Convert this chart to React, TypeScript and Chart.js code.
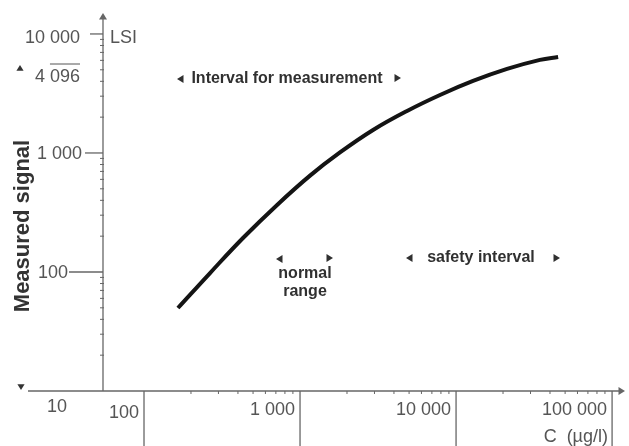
import React, { useEffect, useRef } from 'react';
import { Chart, registerables } from 'chart.js';

Chart.register(...registerables);

// ---- data ----
const concentration = [165, 265, 431, 713, 1159, 1803, 2938, 4853, 7890, 12850, 21230, 34500, 45100];
const signal = [49.8, 98, 193, 366, 645, 1010, 1560, 2254, 3070, 4027, 5085, 6053, 6410];

const xMajorTicks = [100, 1000, 10000, 100000];
const xTickLabels = ['100', '1 000', '10 000', '100 000'];
const yMajorTicks = [100, 1000, 10000];
const yTickLabels = ['100', '1 000', '10 000'];
const yLowLabel = '10';
const lsiLabelMain = '4 ';
const lsiLabelOver = '096';
const xRange = [54.6, 121000];
const yRange = [10, 15000];
const yAxisTitle = 'Measured signal';
const xAxisTitle = 'C  (µg/l)';
const yUnit = 'LSI';
const measureText = 'Interval for measurement';
const normalText = ['normal', 'range'];
const safetyText = 'safety interval';

// ---- layout / style (pixels) ----
const yTickStyle = [
  { labelRight: 68, dashFrom: 69 },
  { labelRight: 82, dashFrom: 85 },
  { labelRight: 80, dashFrom: 90 },
];
const tickFont = '18px "Liberation Sans", Arial, sans-serif';
const noteFont = 'bold 16px "Liberation Sans", Arial, sans-serif';
const titleFont = 'bold 22px "Liberation Sans", Arial, sans-serif';
const axisColor = '#666';
const tickTextColor = '#555';
const noteColor = '#303030';

function tri(ctx: CanvasRenderingContext2D, x: number, y: number, dir: 'l' | 'r' | 'u' | 'd', s = 4) {
  ctx.beginPath();
  if (dir === 'l') { ctx.moveTo(x, y); ctx.lineTo(x + s * 1.3, y - s * 0.8); ctx.lineTo(x + s * 1.3, y + s * 0.8); }
  if (dir === 'r') { ctx.moveTo(x, y); ctx.lineTo(x - s * 1.3, y - s * 0.8); ctx.lineTo(x - s * 1.3, y + s * 0.8); }
  if (dir === 'u') { ctx.moveTo(x, y); ctx.lineTo(x - s * 0.8, y + s * 1.3); ctx.lineTo(x + s * 0.8, y + s * 1.3); }
  if (dir === 'd') { ctx.moveTo(x, y); ctx.lineTo(x - s * 0.8, y - s * 1.3); ctx.lineTo(x + s * 0.8, y - s * 1.3); }
  ctx.closePath();
  ctx.fill();
}

function line(ctx: CanvasRenderingContext2D, x1: number, y1: number, x2: number, y2: number) {
  ctx.beginPath();
  ctx.moveTo(x1, y1);
  ctx.lineTo(x2, y2);
  ctx.stroke();
}

const sketchPlugin = {
  id: 'sketchAxes',
  beforeDatasetsDraw(chart: any) {
    const { ctx, chartArea, scales } = chart;
    const xs = scales.x;
    const ys = scales.y;
    const ax = xs.getPixelForValue(xRange[0]);
    const ay = ys.getPixelForValue(yRange[0]);
    const H = chart.height;
    ctx.save();
    ctx.strokeStyle = axisColor;
    ctx.fillStyle = axisColor;
    ctx.lineWidth = 1.3;

    // y axis + arrow
    line(ctx, ax, ay, ax, chartArea.top + 5);
    tri(ctx, ax, chartArea.top, 'u', 5);
    // x axis + arrow
    line(ctx, 28, ay, chartArea.right - 5, ay);
    tri(ctx, chartArea.right, ay, 'r', 5);

    // y minor ticks
    ctx.lineWidth = 1;
    for (let d = 10; d < yRange[1]; d *= 10) {
      for (let k = 2; k <= 9; k++) {
        const v = k * d;
        if (v > yRange[1]) break;
        const py = ys.getPixelForValue(v);
        line(ctx, ax - 3, py, ax + 1, py);
      }
    }
    // y major ticks (dashes to labels)
    ctx.lineWidth = 1.3;
    yMajorTicks.forEach((v, i) => {
      const py = ys.getPixelForValue(v);
      line(ctx, yTickStyle[i].dashFrom, py, ax, py);
    });

    // x minor ticks
    ctx.lineWidth = 1;
    for (let d = 100; d < xRange[1]; d *= 10) {
      for (let k = 2; k <= 9; k++) {
        const v = k * d;
        if (v > xRange[1]) break;
        const px = xs.getPixelForValue(v);
        line(ctx, px, ay, px, ay + 3);
      }
    }
    // x major ticks: long lines downward
    ctx.lineWidth = 1.3;
    xMajorTicks.forEach((v) => {
      const px = xs.getPixelForValue(v);
      line(ctx, px, ay, px, H);
    });

    // range markers at left
    ctx.fillStyle = '#333';
    tri(ctx, 20, 65, 'u', 4.5);
    tri(ctx, 21, 390, 'd', 4.5);

    // tick labels
    ctx.fillStyle = tickTextColor;
    ctx.font = tickFont;
    ctx.textBaseline = 'middle';
    ctx.textAlign = 'right';
    yMajorTicks.forEach((v, i) => {
      const py = ys.getPixelForValue(v);
      ctx.fillText(yTickLabels[i], yTickStyle[i].labelRight, py + (i === 2 ? 4 : 1));
    });
    // 4 096 with overline
    const lsiY = 77;
    ctx.fillText(lsiLabelMain + lsiLabelOver, 80, lsiY);
    const ow = ctx.measureText(lsiLabelOver).width;
    ctx.strokeStyle = tickTextColor;
    ctx.lineWidth = 1;
    line(ctx, 80 - ow, lsiY - 13, 80, lsiY - 13);

    ctx.textAlign = 'center';
    ctx.fillText(yLowLabel, 57, 407);

    ctx.textAlign = 'right';
    xMajorTicks.forEach((v, i) => {
      const px = xs.getPixelForValue(v);
      ctx.fillText(xTickLabels[i], px - 5, i === 0 ? 413 : 410);
    });
    ctx.fillText(xAxisTitle, 608, 437);

    ctx.textAlign = 'left';
    ctx.fillText(yUnit, 110, 38);

    // y-axis title
    ctx.save();
    ctx.translate(23, 226);
    ctx.rotate(-Math.PI / 2);
    ctx.font = titleFont;
    ctx.fillStyle = '#333';
    ctx.textAlign = 'center';
    ctx.fillText(yAxisTitle, 0, 0);
    ctx.restore();

    // notes
    ctx.font = noteFont;
    ctx.fillStyle = noteColor;
    ctx.textAlign = 'center';
    ctx.fillText(measureText, 287, 79);
    tri(ctx, 177, 79, 'l', 5);
    tri(ctx, 401, 78, 'r', 5);

    tri(ctx, 276, 259, 'l', 5);
    tri(ctx, 333, 258, 'r', 5);
    ctx.fillText(normalText[0], 305, 274);
    ctx.fillText(normalText[1], 305, 292);

    ctx.fillText(safetyText, 481, 258);
    tri(ctx, 406, 258, 'l', 5);
    tri(ctx, 560, 258, 'r', 5);

    ctx.restore();
  },
};

export default function App() {
  const ref = useRef<HTMLCanvasElement>(null);
  useEffect(() => {
    const chart = new Chart(ref.current as HTMLCanvasElement, {
      type: 'line',
      data: {
        datasets: [
          {
            data: concentration.map((c, i) => ({ x: c, y: signal[i] })),
            borderColor: '#141414',
            borderWidth: 4,
            pointRadius: 0,
            tension: 0.4,
            fill: false,
          },
        ],
      },
      options: {
        responsive: true,
        maintainAspectRatio: false,
        animation: false,
        events: [],
        layout: { padding: { left: 103, right: 4, top: 13, bottom: 55 } },
        scales: {
          x: { type: 'logarithmic', min: xRange[0], max: xRange[1], display: false, bounds: 'data' },
          y: { type: 'logarithmic', min: yRange[0], max: yRange[1], display: false, bounds: 'data' },
        },
        plugins: { legend: { display: false }, tooltip: { enabled: false } },
      },
      plugins: [sketchPlugin],
    } as any);
    return () => chart.destroy();
  }, []);
  return (
    <div style={{ position: 'absolute', left: 0, top: 0, width: 629, height: 446, background: '#fff' }}>
      <canvas ref={ref} />
    </div>
  );
}
